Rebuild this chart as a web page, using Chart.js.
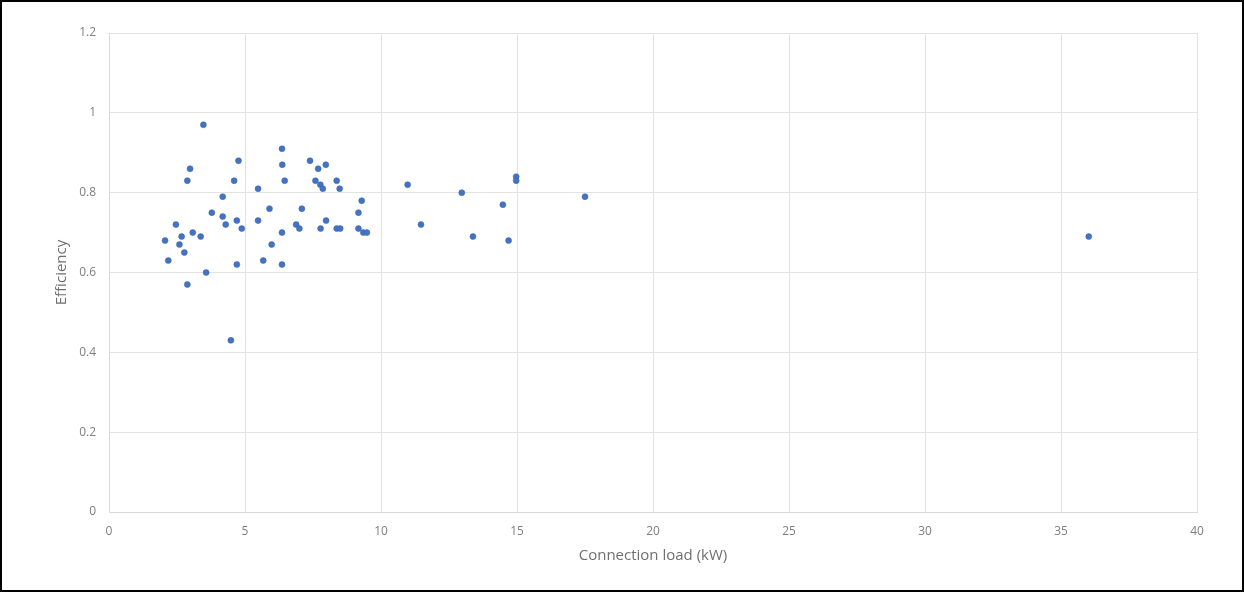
<!DOCTYPE html>
<html>
<head>
<meta charset="utf-8">
<script src="https://cdn.jsdelivr.net/npm/chart.js@4.4.1/dist/chart.umd.min.js"></script>
<style>
  html, body { margin: 0; padding: 0; background: #fff; }
  .frame {
    width: 1244px;
    height: 592px;
    box-sizing: border-box;
    border: 2px solid #000;
    background: #fff;
  }
  canvas { display: block; }
</style>
</head>
<body>
<div class="frame">
  <canvas id="scatter" width="1240" height="588"></canvas>
</div>
<script>
// connection load (kW)
const loads = [
  2.06, 2.18, 2.46, 2.59, 2.67, 2.77, 2.88, 2.88, 2.98, 3.08,
  3.37, 3.47, 3.57, 3.78, 4.18, 4.18, 4.29, 4.48, 4.60, 4.70,
  4.70, 4.76, 4.88, 5.48, 5.48, 5.67, 5.90, 5.98, 6.36, 6.37,
  6.36, 6.36, 6.46, 6.88, 7.00, 7.09, 7.39, 7.59, 7.69, 7.77,
  7.86, 7.78, 7.97, 7.98, 8.37, 8.37, 8.48, 8.50, 9.17, 9.29,
  9.17, 9.35, 9.48, 10.98, 11.47, 12.97, 13.38, 14.48, 14.69, 14.97,
  14.97, 17.50, 36.02
];
// efficiency
const efficiency = [
  0.68, 0.63, 0.72, 0.67, 0.69, 0.65, 0.57, 0.83, 0.86, 0.70,
  0.69, 0.97, 0.60, 0.75, 0.79, 0.74, 0.72, 0.43, 0.83, 0.62,
  0.73, 0.88, 0.71, 0.81, 0.73, 0.63, 0.76, 0.67, 0.91, 0.87,
  0.70, 0.62, 0.83, 0.72, 0.71, 0.76, 0.88, 0.83, 0.86, 0.82,
  0.81, 0.71, 0.87, 0.73, 0.83, 0.71, 0.81, 0.71, 0.75, 0.78,
  0.71, 0.70, 0.70, 0.82, 0.72, 0.80, 0.69, 0.77, 0.68, 0.84,
  0.83, 0.79, 0.69
];
const xTitle = "Connection load (kW)";
const yTitle = "Efficiency";

const points = [];
for (let i = 0; i < loads.length; i++) {
  points.push({ x: loads[i], y: efficiency[i] });
}

const textColor = "#7f7f7f";
const gridColor = "#e3e3e3";
const fontFamily = "'Open Sans', 'Liberation Sans', sans-serif";

const config = {
  type: "scatter",
  data: {
    datasets: [
      {
        label: yTitle,
        data: points,
        backgroundColor: "#4472c4",
        borderColor: "#3a62a8",
        borderWidth: 0.5,
        pointRadius: 3,
      },
    ],
  },
  options: {
    responsive: false,
    animation: false,
    layout: { padding: { left: 0, top: 31, right: 45, bottom: 0 } },
    plugins: {
      legend: { display: false },
      tooltip: { enabled: false },
    },
    scales: {
      x: {
        type: "linear",
        min: 0,
        max: 40,
        afterFit: (scale) => { scale.height = 78; },
        ticks: {
          stepSize: 5,
          padding: 12,
          color: textColor,
          font: { family: fontFamily, size: 12 },
        },
        grid: { color: gridColor, drawTicks: false },
        border: { color: "#d9d9d9" },
        title: {
          display: true,
          text: xTitle,
          color: "#6f6f6f",
          font: { family: fontFamily, size: 15 },
          padding: { top: 0, bottom: 25 },
        },
      },
      y: {
        type: "linear",
        min: 0,
        max: 1.2,
        afterFit: (scale) => { scale.width = 107; },
        ticks: {
          stepSize: 0.2,
          padding: 13,
          color: textColor,
          font: { family: fontFamily, size: 12 },
          callback: (v) => Math.round(v * 10) / 10,
        },
        grid: { color: gridColor, drawTicks: false },
        border: { color: "#d9d9d9" },
        title: {
          display: true,
          text: yTitle,
          color: "#6f6f6f",
          font: { family: fontFamily, size: 15 },
          padding: { top: 51, bottom: 0 },
        },
      },
    },
  },
};

const myChart = new Chart("scatter", config);
</script>
</body>
</html>
